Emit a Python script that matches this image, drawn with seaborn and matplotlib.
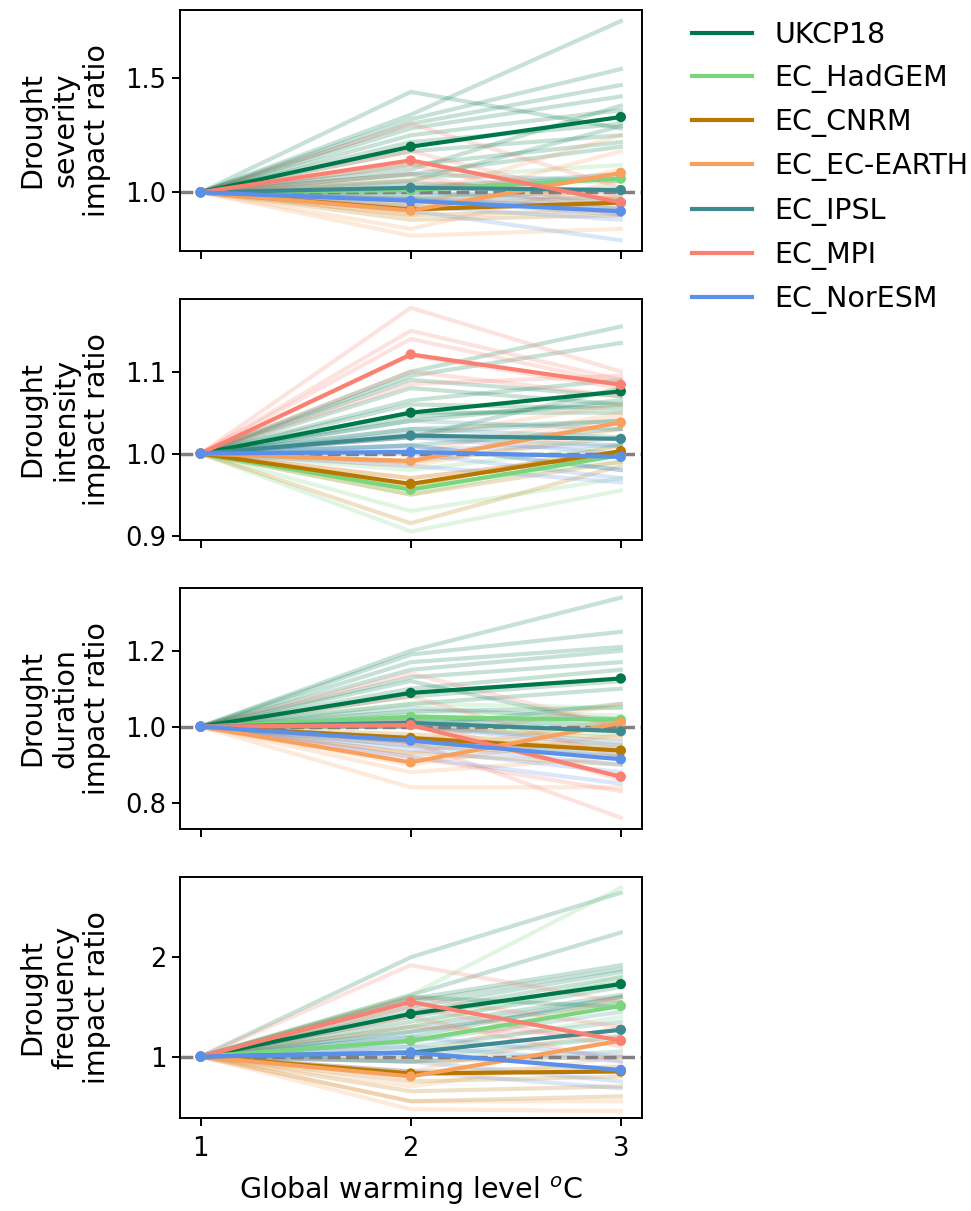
#%%
import numpy as np
import pandas as pd
import matplotlib
matplotlib.use('Agg')
import matplotlib.pyplot as plt
import seaborn as sns

#%%
models = ['UKCP18', 'EC_HadGEM', 'EC_CNRM', 'EC_EC-EARTH', 'EC_IPSL', 'EC_MPI', 'EC_NorESM']
colours = ['#00774a', '#79d67c', '#b87800', '#f9a05c', '#3d8b90', '#fa8072', '#5a8fea']
metrics = ['severity', 'intensity', 'duration', 'frequency']
gwl = [1, 2, 3]

# multi-model mean impact ratio at 2 and 3 degrees (1 degree is the baseline = 1)
mean_severity = {'UKCP18': [1.20, 1.33], 'EC_HadGEM': [1.01, 1.06], 'EC_CNRM': [0.925, 0.955],
                 'EC_EC-EARTH': [0.92, 1.085], 'EC_IPSL': [1.02, 1.01], 'EC_MPI': [1.14, 0.956],
                 'EC_NorESM': [0.963, 0.917]}
mean_intensity = {'UKCP18': [1.050, 1.076], 'EC_HadGEM': [0.956, 0.998], 'EC_CNRM': [0.963, 1.003],
                  'EC_EC-EARTH': [0.991, 1.038], 'EC_IPSL': [1.022, 1.018], 'EC_MPI': [1.121, 1.084],
                  'EC_NorESM': [1.002, 0.996]}
mean_duration = {'UKCP18': [1.089, 1.127], 'EC_HadGEM': [1.026, 1.018], 'EC_CNRM': [0.97, 0.937],
                 'EC_EC-EARTH': [0.906, 1.01], 'EC_IPSL': [1.01, 0.988], 'EC_MPI': [1.004, 0.868],
                 'EC_NorESM': [0.963, 0.914]}
mean_frequency = {'UKCP18': [1.43, 1.73], 'EC_HadGEM': [1.16, 1.51], 'EC_CNRM': [0.83, 0.85],
                  'EC_EC-EARTH': [0.80, 1.16], 'EC_IPSL': [1.04, 1.27], 'EC_MPI': [1.55, 1.16],
                  'EC_NorESM': [1.04, 0.865]}

# individual ensemble members: (values at 2 degrees, values at 3 degrees)
mem_severity = {
    'UKCP18': ([1.44, 1.34, 1.32, 1.30, 1.28, 1.25, 1.22, 1.18, 1.12, 1.10, 1.08, 1.05],
               [1.28, 1.75, 1.54, 1.47, 1.42, 1.36, 1.30, 1.25, 1.22, 1.38, 1.20, 1.29]),
    'EC_HadGEM': ([1.06, 1.02, 0.98, 1.00, 1.03], [1.12, 1.05, 1.02, 1.08, 1.06]),
    'EC_CNRM': ([0.95, 0.90, 0.88, 0.93, 0.97], [0.98, 0.92, 0.90, 0.96, 1.01]),
    'EC_EC-EARTH': ([0.98, 0.90, 0.84, 0.81, 0.94], [1.25, 1.10, 1.05, 0.84, 1.18]),
    'EC_IPSL': ([1.08, 1.04, 1.00, 0.97, 1.02], [1.05, 1.00, 0.97, 0.93, 1.08]),
    'EC_MPI': ([1.30, 1.18, 1.12, 1.08, 1.05], [1.02, 0.95, 0.92, 0.90, 0.98]),
    'EC_NorESM': ([1.00, 0.97, 0.94, 0.92, 0.98], [0.95, 0.90, 0.88, 0.79, 0.93]),
}
mem_intensity = {
    'UKCP18': ([1.10, 1.095, 1.09, 1.08, 1.065, 1.06, 1.05, 1.04, 1.03, 1.02, 1.01, 1.045],
               [1.155, 1.135, 1.07, 1.06, 1.09, 1.055, 1.05, 1.065, 1.04, 1.08, 1.03, 1.06]),
    'EC_HadGEM': ([0.98, 0.96, 0.93, 0.905, 0.95], [1.01, 0.99, 0.97, 0.955, 1.00]),
    'EC_CNRM': ([0.99, 0.97, 0.95, 0.915, 0.96], [1.02, 1.00, 0.99, 0.985, 1.01]),
    'EC_EC-EARTH': ([1.02, 1.00, 0.985, 0.97, 0.99], [1.06, 1.05, 1.03, 1.00, 1.045]),
    'EC_IPSL': ([1.04, 1.03, 1.02, 1.01, 1.025], [1.03, 1.02, 1.01, 0.98, 1.04]),
    'EC_MPI': ([1.178, 1.15, 1.14, 1.12, 1.10, 1.085], [1.10, 1.09, 1.085, 1.08, 1.07, 1.095]),
    'EC_NorESM': ([1.02, 1.01, 1.00, 0.985, 1.005], [1.00, 0.98, 0.97, 0.965, 1.01]),
}
mem_duration = {
    'UKCP18': ([1.20, 1.19, 1.17, 1.15, 1.13, 1.10, 1.08, 1.06, 1.04, 1.02, 1.00, 1.12],
               [1.34, 1.25, 1.21, 1.20, 1.17, 1.15, 1.12, 1.10, 1.05, 1.02, 1.06, 1.00]),
    'EC_HadGEM': ([1.06, 1.04, 1.02, 1.00, 1.01], [1.05, 1.03, 1.02, 0.98, 1.01]),
    'EC_CNRM': ([1.00, 0.97, 0.95, 0.93, 0.98], [0.97, 0.94, 0.92, 0.90, 0.95]),
    'EC_EC-EARTH': ([0.96, 0.93, 0.90, 0.84, 0.88], [1.06, 1.02, 0.98, 0.84, 0.92]),
    'EC_IPSL': ([1.05, 1.02, 1.00, 0.96, 1.03], [1.02, 0.99, 0.96, 0.93, 1.00]),
    'EC_MPI': ([1.14, 1.08, 1.02, 0.96, 0.92], [1.00, 0.92, 0.86, 0.76, 0.83]),
    'EC_NorESM': ([1.00, 0.97, 0.95, 0.92, 0.94], [0.95, 0.92, 0.90, 0.85, 0.88]),
}
mem_frequency = {
    'UKCP18': ([2.00, 1.62, 1.58, 1.55, 1.50, 1.45, 1.40, 1.35, 1.30, 1.25, 1.20, 1.60],
               [2.65, 2.25, 1.92, 1.88, 1.85, 1.80, 1.75, 1.70, 1.62, 1.55, 1.60, 1.50]),
    'EC_HadGEM': ([1.62, 1.30, 1.15, 1.05, 0.95], [2.70, 1.80, 1.55, 1.40, 1.20]),
    'EC_CNRM': ([0.95, 0.85, 0.75, 0.65, 0.55], [1.00, 0.90, 0.80, 0.70, 0.60]),
    'EC_EC-EARTH': ([1.00, 0.85, 0.70, 0.55, 0.47], [1.60, 1.30, 1.00, 0.55, 0.45]),
    'EC_IPSL': ([1.25, 1.10, 1.00, 0.95, 1.15], [1.60, 1.35, 1.20, 1.05, 1.45]),
    'EC_MPI': ([1.92, 1.60, 1.50, 1.40, 1.30], [1.55, 1.30, 1.10, 0.95, 1.20]),
    'EC_NorESM': ([1.20, 1.05, 0.95, 0.85, 1.10], [1.00, 0.85, 0.75, 0.68, 0.95]),
}

ylims = {'severity': (0.745, 1.80), 'intensity': (0.895, 1.189),
         'duration': (0.731, 1.366), 'frequency': (0.384, 2.81)}
yticks = {'severity': [1.0, 1.5], 'intensity': [0.9, 1.0, 1.1],
          'duration': [0.8, 1.0, 1.2], 'frequency': [1, 2]}

#%%
means = {'severity': mean_severity, 'intensity': mean_intensity,
         'duration': mean_duration, 'frequency': mean_frequency}
members = {'severity': mem_severity, 'intensity': mem_intensity,
           'duration': mem_duration, 'frequency': mem_frequency}

mean_rows = []
mem_rows = []
for metric in metrics:
    for m in models:
        for x, v in zip(gwl, [1.0] + means[metric][m]):
            mean_rows.append([metric, m, x, v])
        v2, v3 = members[metric][m]
        for i, (a, b) in enumerate(zip(v2, v3)):
            for x, v in zip(gwl, [1.0, a, b]):
                mem_rows.append([metric, m, f'{m}_{i}', x, v])
mean_df = pd.DataFrame(mean_rows, columns=['metric', 'model', 'gwl', 'ratio'])
mem_df = pd.DataFrame(mem_rows, columns=['metric', 'model', 'member', 'gwl', 'ratio'])
palette = dict(zip(models, colours))

#%%
plt.rcParams['font.family'] = ['DejaVu Sans']
plt.rcParams['font.size'] = 20.5
fig, axes = plt.subplots(4, 1, figsize=(9.71, 12.11), dpi=100, sharex=True)
fig.subplots_adjust(left=0.185, right=0.661, top=0.992, bottom=0.077, hspace=0.2)

for k, (ax, metric) in enumerate(zip(axes, metrics)):
    sns.lineplot(data=mem_df[mem_df.metric == metric], x='gwl', y='ratio', hue='model',
                 units='member', estimator=None, hue_order=models, palette=palette,
                 alpha=0.22, lw=3, legend=False, ax=ax)
    ax.axhline(1, color='grey', ls='--', lw=2.5, zorder=2.5)
    sub = mean_df[mean_df.metric == metric]
    sns.lineplot(data=sub, x='gwl', y='ratio', hue='model', hue_order=models,
                 palette=palette, lw=3, legend=(k == 0), ax=ax, zorder=3)
    sns.scatterplot(data=sub, x='gwl', y='ratio', hue='model', hue_order=models,
                    palette=palette, s=55, linewidth=0, legend=False, ax=ax, zorder=4)
    ax.set_ylim(ylims[metric])
    ax.set_yticks(yticks[metric])
    ax.set_xticks(gwl)
    ax.set_ylabel(f'Drought\n{metric}\nimpact ratio', labelpad=10)
    ax.set_xlabel('')
    ax.tick_params(length=6, width=1.4, labelsize=18.5)
    ax.tick_params(axis='x', pad=7)
    for s in ax.spines.values():
        s.set_linewidth(1.4)

axes[-1].set_xlabel('Global warming level $^o$C', labelpad=9)
fig.align_ylabels(axes)

handles, labels = axes[0].get_legend_handles_labels()
axes[0].get_legend().remove()
fig.legend(handles, labels, loc='upper left', bbox_to_anchor=(0.7127, 0.9825),
           frameon=False, borderpad=0, borderaxespad=0, handlelength=2.1,
           handletextpad=0.8, labelspacing=0.53, fontsize=20.5)

plt.savefig('out.png', dpi=100)
